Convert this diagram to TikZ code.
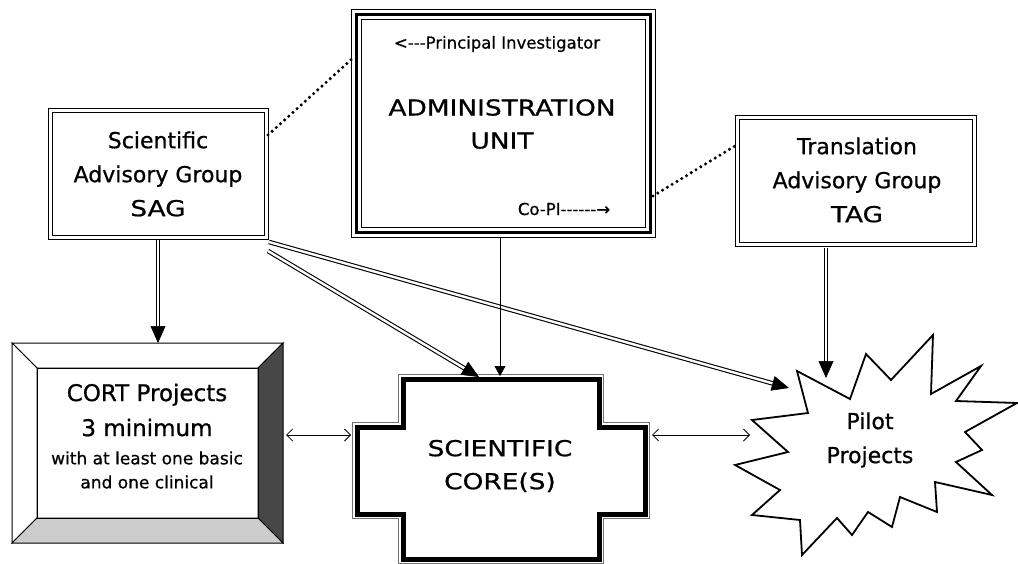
\documentclass[tikz,border=0pt]{standalone}
\usepackage{fontspec}
\setmainfont{DejaVu Sans}[Ligatures=TeXOff, FakeBold=0.7]
\newfontfamily\widefont{DejaVu Sans}[Ligatures=TeXOff, FakeBold=0.7, FakeStretch=1.2]
\usetikzlibrary{arrows.meta,decorations.markings,calc}
\definecolor{darkface}{gray}{0.28}
\definecolor{lightface}{gray}{0.80}
\definecolor{rimgray}{gray}{0.45}
\begin{document}
\begin{tikzpicture}[x=1pt,y=-1pt,
  big/.style={align=center, font=\fontsize{22}{34}\selectfont, inner sep=0pt},
  wide/.style={align=center, font=\widefont\fontsize{22}{33}\selectfont, inner sep=0pt},
  small/.style={align=center, font=\fontsize{16.5}{24}\selectfont, inner sep=0pt},
  dblbox/.style={draw, double, double distance=2.6pt, line width=1pt, inner sep=0pt},
  dblarrow/.style={double, double distance=2.4pt, line width=1.1pt, shorten >=10pt,
     postaction={decorate, decoration={markings,
       mark=at position 1 with {\arrow[line width=0.6pt]{Triangle[length=17pt,width=15pt]}}}}},
  thinarrow/.style={line width=0.8pt, -{Triangle[length=10pt,width=11pt]}},
  twoway/.style={line width=0.8pt, {Straight Barb[length=6pt,width=12pt]}-{Straight Barb[length=6pt,width=12pt]}},
  dots/.style={line width=3.4pt, dash pattern=on 0pt off 5.6pt, line cap=round},
]
\useasboundingbox (0,0) rectangle (1018,564);

% ---------- Scientific Advisory Group ----------
\node[dblbox, minimum width=216pt, minimum height=127pt] (sag) at (158.5,174) {};
\node[big] (sagtxt) at (158,174) {Scientific\\Advisory Group\\{\widefont SAG}};

% ---------- Translation Advisory Group ----------
\node[dblbox, minimum width=237pt, minimum height=127pt] (tag) at (856,181) {};
\node[big] (tagtxt) at (857,180) {Translation\\Advisory Group\\{\widefont TAG}};

% ---------- Administration Unit ----------
\node[minimum width=303pt, minimum height=227pt, inner sep=0pt] (admin) at (503.5,123.5) {};
\draw[line width=0.8pt] (admin.north west) rectangle (admin.south east);
\draw[line width=3pt] ($(admin.north west)+(4.5,4.5)$) rectangle ($(admin.south east)+(-4.5,-4.5)$);
\draw[line width=0.8pt] ($(admin.north west)+(9.5,9.5)$) rectangle ($(admin.south east)+(-9.5,-9.5)$);
\node[small] (pi) at (497,44) {<---Principal Investigator};
\node[wide] (admtxt) at (502,124) {ADMINISTRATION\\UNIT};
\node[small] (copi) at (564,209) {Co-PI------→};

% ---------- CORT Projects (bevelled box) ----------
\coordinate (cA) at (12,343);  \coordinate (cB) at (283,343);
\coordinate (cC) at (283,543); \coordinate (cD) at (12,543);
\coordinate (ca) at (37,368);  \coordinate (cb) at (258,368);
\coordinate (cc) at (258,518); \coordinate (cd) at (37,518);
\draw[line width=1pt, fill=white] (cA) -- (cB) -- (cb) -- (ca) -- cycle;
\draw[line width=1pt, fill=white] (cA) -- (ca) -- (cd) -- (cD) -- cycle;
\draw[line width=1pt, fill=darkface] (cB) -- (cC) -- (cc) -- (cb) -- cycle;
\draw[line width=1pt, fill=lightface] (cD) -- (cd) -- (cc) -- (cC) -- cycle;
\draw[line width=1pt] (ca) rectangle (cc);
\node[big, font=\fontsize{23}{35}\selectfont] (cort) at (147,410) {CORT Projects\\3 minimum};
\node[small, font=\fontsize{17}{24}\selectfont] (cortsub) at (147,470) {with at least one basic\\and one clinical};
\coordinate (cortR) at (286,435);

% ---------- Scientific Core(s) ----------
\draw[line width=1pt, rimgray]
  (398.5,374.5) -- (603.5,374.5) -- (603.5,422.5) -- (649.5,422.5) -- (649.5,518.5)
  -- (603.5,518.5) -- (603.5,563.5) -- (398.5,563.5) -- (398.5,518.5) -- (352.5,518.5)
  -- (352.5,422.5) -- (398.5,422.5) -- cycle;
\draw[line width=5pt, line join=miter]
  (403,379) -- (599,379) -- (599,427) -- (645,427) -- (645,514) -- (599,514)
  -- (599,559) -- (403,559) -- (403,514) -- (357,514) -- (357,427) -- (403,427) -- cycle;
\node[wide] (core) at (500,466) {SCIENTIFIC\\CORE(S)};
\coordinate (coreL) at (351,435);
\coordinate (coreR) at (652,435);
\coordinate (coreT1) at (479,377);
\coordinate (coreT2) at (500,376);

% ---------- Pilot Projects (star) ----------
\draw[line width=1.8pt, line join=miter, fill=white]
  (797,371) -- (850,399) -- (866,354) -- (891,380) -- (933,335) -- (931,394)
  -- (981,366) -- (956,401) -- (1017,403) -- (965,432) -- (982,450) -- (956,462)
  -- (992,495) -- (935,482) -- (937,512) -- (900,497) -- (892,527) -- (868,512)
  -- (852,535) -- (837,518) -- (802,555) -- (800,520) -- (752,515) -- (780,490)
  -- (735,465) -- (788,452) -- (752,420) -- (808,413) -- cycle;
\node[big] (pilot) at (870,440) {Pilot\\Projects};
\coordinate (pilotL) at (750,435);
\coordinate (pilotT) at (826,378);
\coordinate (pilotTL) at (789,388);

% ---------- connectors ----------
\coordinate (sagB) at (158,240);
\coordinate (sagBR1) at (268,251);
\coordinate (sagBR2) at (269,242);
\coordinate (cortT) at (158,343);
\coordinate (sagR) at (268,135);
\coordinate (adminL) at (353,58);
\coordinate (adminR) at (653,196);
\coordinate (tagL) at (735,146);
\coordinate (adminB) at (500,237);
\coordinate (tagB) at (826,248);

\draw[dblarrow] (sagB) -- (cortT);
\draw[dblarrow] (sagBR1) -- (coreT1);
\draw[dblarrow] (sagBR2) -- (pilotTL);
\draw[dblarrow] (tagB) -- (pilotT);
\draw[thinarrow] (adminB) -- (coreT2);
\draw[dots] (sagR) -- (adminL);
\draw[dots] (adminR) -- (tagL);
\draw[twoway] (cortR) -- (coreL);
\draw[twoway] (coreR) -- (pilotL);
\end{tikzpicture}
\end{document}
